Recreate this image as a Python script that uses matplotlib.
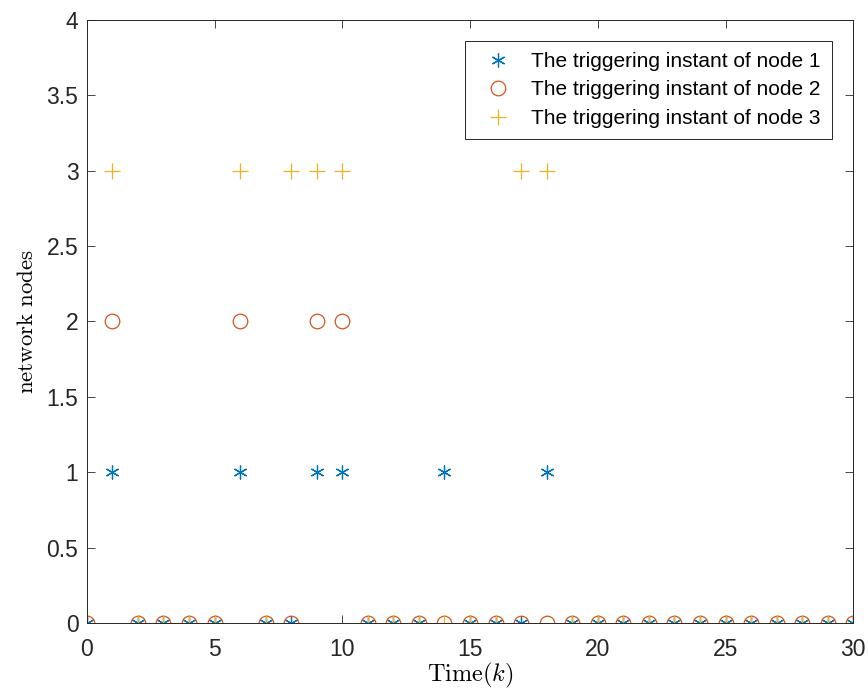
import matplotlib.pyplot as plt
import numpy as np

plt.rcParams['mathtext.fontset'] = 'cm'
plt.rcParams['font.family'] = 'Liberation Sans'

k = np.arange(0, 31)
# instants where each node triggers
node1_times = [1, 6, 9, 10, 14, 18]
node2_times = [1, 6, 9, 10]
node3_times = [1, 6, 8, 9, 10, 17, 18]

node1 = np.where(np.isin(k, node1_times), 1, 0)
node2 = np.where(np.isin(k, node2_times), 2, 0)
node3 = np.where(np.isin(k, node3_times), 3, 0)

fig = plt.figure(figsize=(8.68, 6.91), dpi=100)
ax = fig.add_axes([0.100, 0.0984, 0.883, 0.873])

ax.plot(k, node1, marker=(6, 2, 0), color='#0072BD', markersize=10,
        markeredgewidth=0.9, linestyle='none', label='The triggering instant of node 1')
ax.plot(k, node2, 'o', color='#D95319', markersize=10.5, markerfacecolor='none',
        markeredgewidth=0.9, linestyle='none', label='The triggering instant of node 2')
ax.plot(k, node3, '+', color='#EDB120', markersize=11,
        markeredgewidth=0.9, linestyle='none', label='The triggering instant of node 3')

ax.set_xlim(0, 30)
ax.set_ylim(0, 4)
ax.set_xticks(np.arange(0, 31, 5))
ax.set_yticks(np.arange(0, 4.01, 0.5))
ax.set_yticklabels(['0', '0.5', '1', '1.5', '2', '2.5', '3', '3.5', '4'])
ax.tick_params(direction='in', labelsize=16.5, length=6, width=0.6, top=True, right=True,
               colors='#262626', pad=6)
ax.tick_params(axis='x', pad=11)
for s in ax.spines.values():
    s.set_linewidth(0.7)
    s.set_color('#262626')

ax.set_xlabel(r'$\mathrm{Time}(k)$', fontsize=17.5, labelpad=0)
ax.set_ylabel(r'$\mathrm{network\ nodes}$', fontsize=16.5, labelpad=6)

leg = ax.legend(loc='upper right', fontsize=15, fancybox=False, edgecolor='#262626',
                framealpha=1, borderaxespad=1.0, handletextpad=0.55, borderpad=0.55,
                labelspacing=0.45, handlelength=2.1)
leg.get_frame().set_linewidth(0.7)

plt.savefig('out.png', dpi=100)
